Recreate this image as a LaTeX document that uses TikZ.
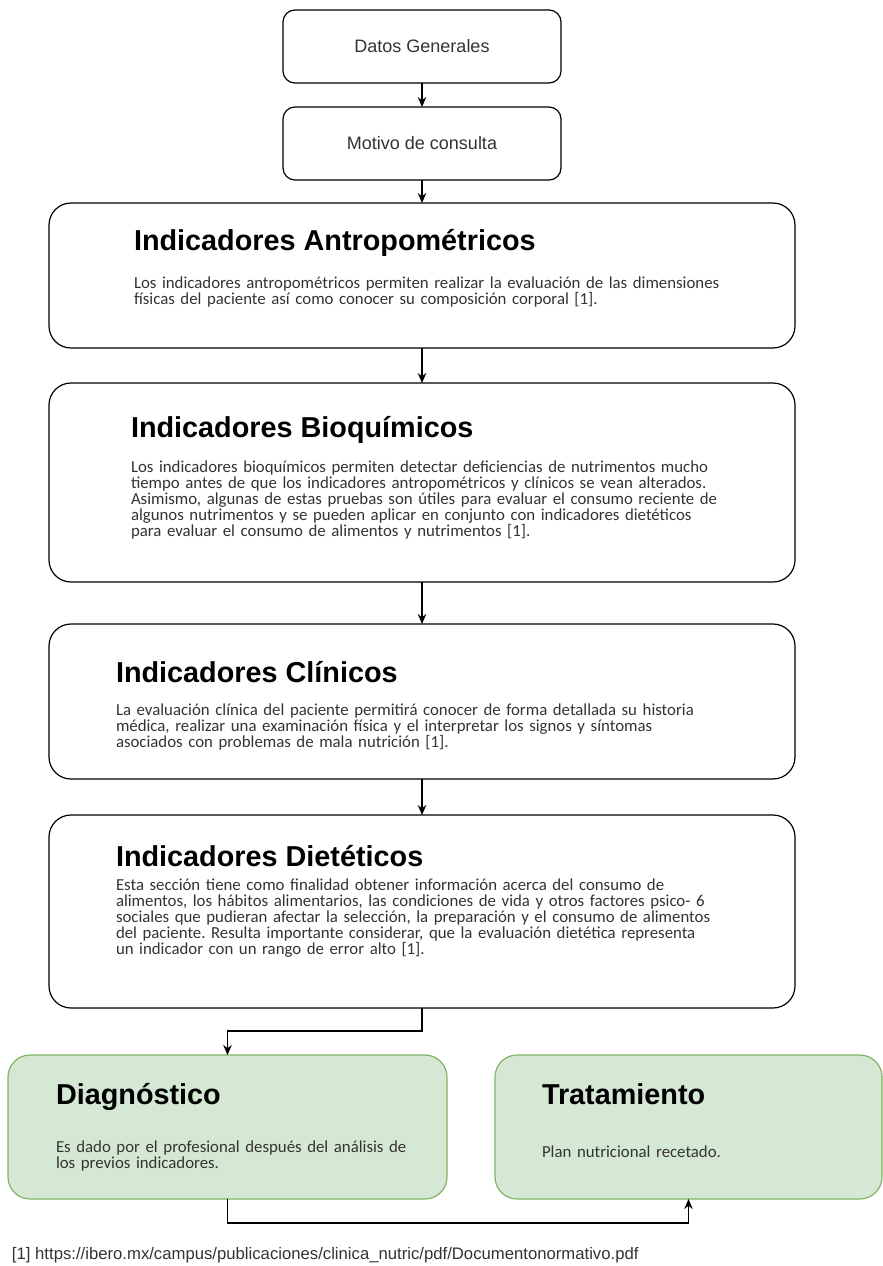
\documentclass[tikz,border=0pt]{standalone}
\usepackage{fontspec}
\setmainfont{Liberation Sans}
\newfontfamily\bodyfont{Carlito}
\usetikzlibrary{arrows.meta}
\definecolor{greenfill}{HTML}{D5E8D4}
\definecolor{greenline}{HTML}{82B366}
\definecolor{bodygray}{HTML}{333333}
\frenchspacing
\begin{document}
\begin{tikzpicture}[x=1pt,y=-1pt,
  every node/.style={outer sep=0pt},
  smallbox/.style={draw=black, line width=1.2pt, rounded corners=12pt, fill=white,
    anchor=north west, minimum width=#1, inner sep=0pt},
  bigbox/.style={draw=black, line width=1.2pt, rounded corners=22pt, fill=white,
    anchor=north west, inner sep=0pt},
  greenbox/.style={draw=greenline, line width=1.2pt, rounded corners=22pt, fill=greenfill,
    anchor=north west, inner sep=0pt},
  plainlabel/.style={inner sep=0pt, font=\fontsize{18}{21}\selectfont, text=bodygray},
  heading/.style={anchor=base west, inner sep=0pt, font=\fontsize{28.8}{34}\selectfont\bfseries},
  bodytext/.style={anchor=base west, inner sep=0pt, text width=#1, align=left,
    font=\bodyfont\fontsize{16.8}{16}\selectfont, text=bodygray},
  flow/.style={line width=1.2pt, -{Stealth[length=10pt,width=8.5pt]}}
]
\useasboundingbox (0,0) rectangle (883,1266);

% boxes
\node[smallbox=278pt, minimum height=73pt] (dg) at (283,10) {};
\node[smallbox=278pt, minimum height=73pt] (mc) at (283,107) {};
\node[bigbox, minimum width=746pt, minimum height=145pt] (an) at (49,203) {};
\node[bigbox, minimum width=746pt, minimum height=199pt] (bq) at (49,383) {};
\node[bigbox, minimum width=746pt, minimum height=155pt] (cl) at (49,624) {};
\node[bigbox, minimum width=746pt, minimum height=193pt] (di) at (49,815) {};
\node[greenbox, minimum width=439pt, minimum height=144pt] (dx) at (8,1055) {};
\node[greenbox, minimum width=387pt, minimum height=144pt] (tr) at (495,1055) {};

% small box labels
\node[plainlabel] (dgt) at (dg.center) {Datos Generales};
\node[plainlabel] (mct) at (mc.center) {Motivo de consulta};

% headings and descriptions
\node[heading] (anh) at (134,250) {Indicadores Antropométricos};
\node[bodytext=700pt] (anb) at (134,288) {Los indicadores antropométricos permiten realizar la evaluación de las dimensiones\\
físicas del paciente así como conocer su composición corporal [1].};

\node[heading] (bqh) at (131,437) {Indicadores Bioquímicos};
\node[bodytext=700pt] (bqb) at (131,472) {Los indicadores bioquímicos permiten detectar deficiencias de nutrimentos mucho\\
tiempo antes de que los indicadores antropométricos y clínicos se vean alterados.\\
Asimismo, algunas de estas pruebas son útiles para evaluar el consumo reciente de\\
algunos nutrimentos y se pueden aplicar en conjunto con indicadores dietéticos\\
para evaluar el consumo de alimentos y nutrimentos [1].};

\node[heading] (clh) at (116,682) {Indicadores Clínicos};
\node[bodytext=700pt] (clb) at (116,715) {La evaluación clínica del paciente permitirá conocer de forma detallada su historia\\
médica, realizar una examinación física y el interpretar los signos y síntomas\\
asociados con problemas de mala nutrición [1].};

\node[heading] (dih) at (116,866) {Indicadores Dietéticos};
\node[bodytext=700pt] (dib) at (116,890) {Esta sección tiene como finalidad obtener información acerca del consumo de\\
alimentos, los hábitos alimentarios, las condiciones de vida y otros factores psico- 6\\
sociales que pudieran afectar la selección, la preparación y el consumo de alimentos\\
del paciente. Resulta importante considerar, que la evaluación dietética representa\\
un indicador con un rango de error alto [1].};

\node[heading] (dxh) at (56,1104) {Diagnóstico};
\node[bodytext=400pt] (dxb) at (56,1152) {Es dado por el profesional después del análisis de\\
los previos indicadores.};

\node[heading] (trh) at (542,1104) {Tratamiento};
\node[bodytext=320pt] (trb) at (542,1157) {Plan nutricional recetado.};

% reference line
\node[anchor=base west, inner sep=0pt, font=\fontsize{16.7}{20}\selectfont, text=bodygray] (ref) at (12,1259)
  {[1] https://ibero.mx/campus/publicaciones/clinica\_nutric/pdf/Documentonormativo.pdf};

% connectors
\draw[flow] (dg.south) -- (mc.north);
\draw[flow] (mc.south) -- (an.north);
\draw[flow] (an.south) -- (bq.north);
\draw[flow] (bq.south) -- (cl.north);
\draw[flow] (cl.south) -- (di.north);
\draw[flow] (di.south) -- ++(0,23) -| (dx.north);
\draw[flow] (dx.south) -- ++(0,24) -| (tr.south);
\end{tikzpicture}
\end{document}
